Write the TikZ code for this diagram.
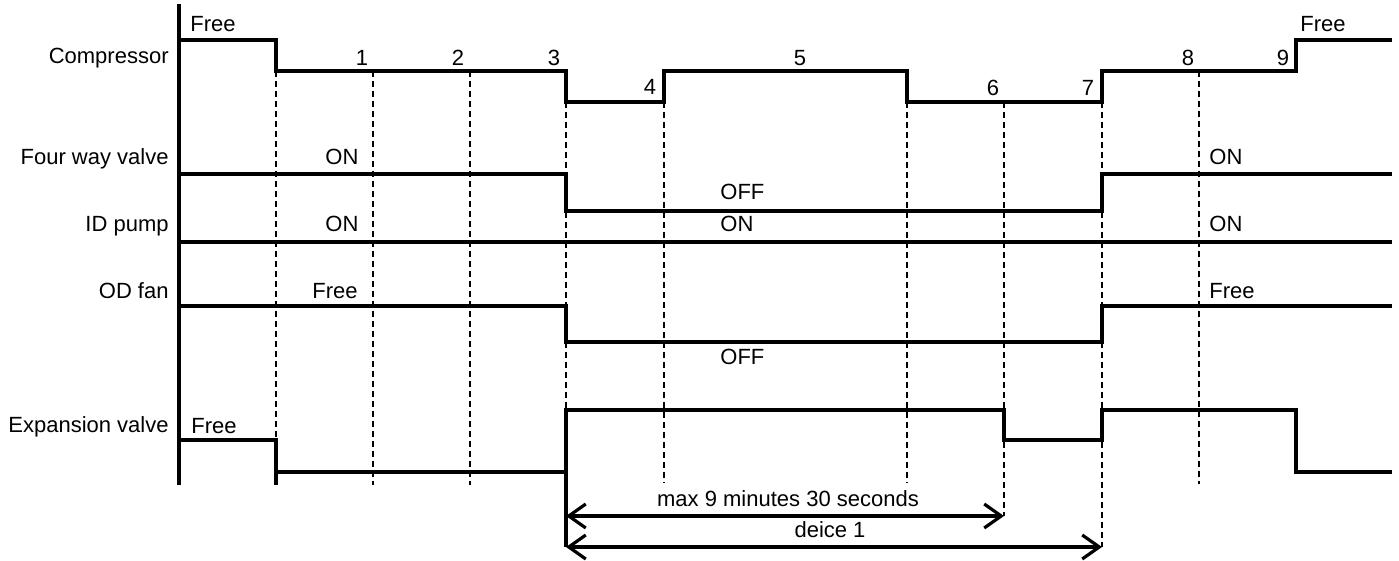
\documentclass[tikz,border=0pt]{standalone}
\usepackage{fontspec}
\setmainfont{Liberation Sans}
\usetikzlibrary{arrows.meta}
\begin{document}
\begin{tikzpicture}[x=0.5pt,y=-0.5pt,
  wave/.style={line width=1.55pt, line join=miter},
  gridline/.style={line width=1.4pt, dash pattern=on 3pt off 2pt},
  dimline/.style={line width=1.6pt, {Straight Barb[length=8.5pt,width=12pt,line width=1.6pt]}-{Straight Barb[length=8.5pt,width=12pt,line width=1.6pt]}},
  lbl/.style={font=\fontsize{11pt}{13pt}\selectfont, inner sep=0pt}]
\useasboundingbox (0,0) rectangle (1399,561);

% signal names
\node[lbl, anchor=base east] (ncomp) at (169,64) {Compressor};
\node[lbl, anchor=base east] (nfour) at (169,165) {Four way valve};
\node[lbl, anchor=base east] (nid) at (169,232) {ID pump};
\node[lbl, anchor=base east] (nod) at (169,299) {OD fan};
\node[lbl, anchor=base east] (nexp) at (169,433) {Expansion valve};

% state labels
\node[lbl, anchor=base west] (f1) at (190,32) {Free};
\node[lbl, anchor=base west] (f2) at (1300,32) {Free};
\node[lbl, anchor=base west] (f3) at (191,434) {Free};
\node[lbl, anchor=base west] (on1) at (325,165) {ON};
\node[lbl, anchor=base west] (on2) at (325,232) {ON};
\node[lbl, anchor=base west] (f4) at (312,299) {Free};
\node[lbl, anchor=base west] (off1) at (720,200) {OFF};
\node[lbl, anchor=base west] (on3) at (720,232) {ON};
\node[lbl, anchor=base west] (off2) at (720,365) {OFF};
\node[lbl, anchor=base west] (on4) at (1209,165) {ON};
\node[lbl, anchor=base west] (on5) at (1209,232) {ON};
\node[lbl, anchor=base west] (f5) at (1209,299) {Free};

% step numbers
\node[lbl, anchor=base] (s1) at (362,66) {1};
\node[lbl, anchor=base] (s2) at (458,66) {2};
\node[lbl, anchor=base] (s3) at (554,66) {3};
\node[lbl, anchor=base] (s4) at (650,95) {4};
\node[lbl, anchor=base] (s5) at (800,66) {5};
\node[lbl, anchor=base] (s6) at (993,96) {6};
\node[lbl, anchor=base] (s7) at (1088,96) {7};
\node[lbl, anchor=base] (s8) at (1188,66) {8};
\node[lbl, anchor=base] (s9) at (1283,66) {9};

% axis
\draw[wave] (179,4) -- (179,485);

% dashed time markers
\draw[gridline] (276,71) -- (276,440);
\draw[gridline] (373,71) -- (373,485);
\draw[gridline] (470,71) -- (470,485);
\draw[gridline] (566,102) -- (566,410);
\draw[gridline] (664,102) -- (664,483);
\draw[gridline] (907,102) -- (907,483);
\draw[gridline] (1004,102) -- (1004,516);
\draw[gridline] (1102,102) -- (1102,547);
\draw[gridline] (1199,71) -- (1199,484);
\draw[wave] (276,472) -- (276,485);
\draw[wave] (566,472) -- (566,547);

% waveforms
\draw[wave] (179,40) -- (276,40) -- (276,71) -- (566,71) -- (566,102) -- (664,102) -- (664,71) -- (907,71) -- (907,102) -- (1102,102) -- (1102,71) -- (1296,71) -- (1296,40) -- (1392,40);
\draw[wave] (179,174) -- (566,174) -- (566,211) -- (1102,211) -- (1102,174) -- (1392,174);
\draw[wave] (179,242) -- (1392,242);
\draw[wave] (179,306) -- (566,306) -- (566,342) -- (1102,342) -- (1102,306) -- (1392,306);
\draw[wave] (179,440) -- (276,440) -- (276,472) -- (566,472) -- (566,410) -- (1004,410) -- (1004,440) -- (1102,440) -- (1102,410) -- (1296,410) -- (1296,472) -- (1392,472);

% durations
\coordinate (d1a) at (566,516);
\coordinate (d1b) at (1004,516);
\coordinate (d2a) at (566,547);
\coordinate (d2b) at (1102,547);
\draw[dimline] (d1a) -- (d1b);
\draw[dimline] (d2a) -- (d2b);
\node[lbl, anchor=base] (tmax) at (788,507) {max 9 minutes 30 seconds};
\node[lbl, anchor=base] (tdeice) at (830,538) {deice 1};
\end{tikzpicture}
\end{document}
